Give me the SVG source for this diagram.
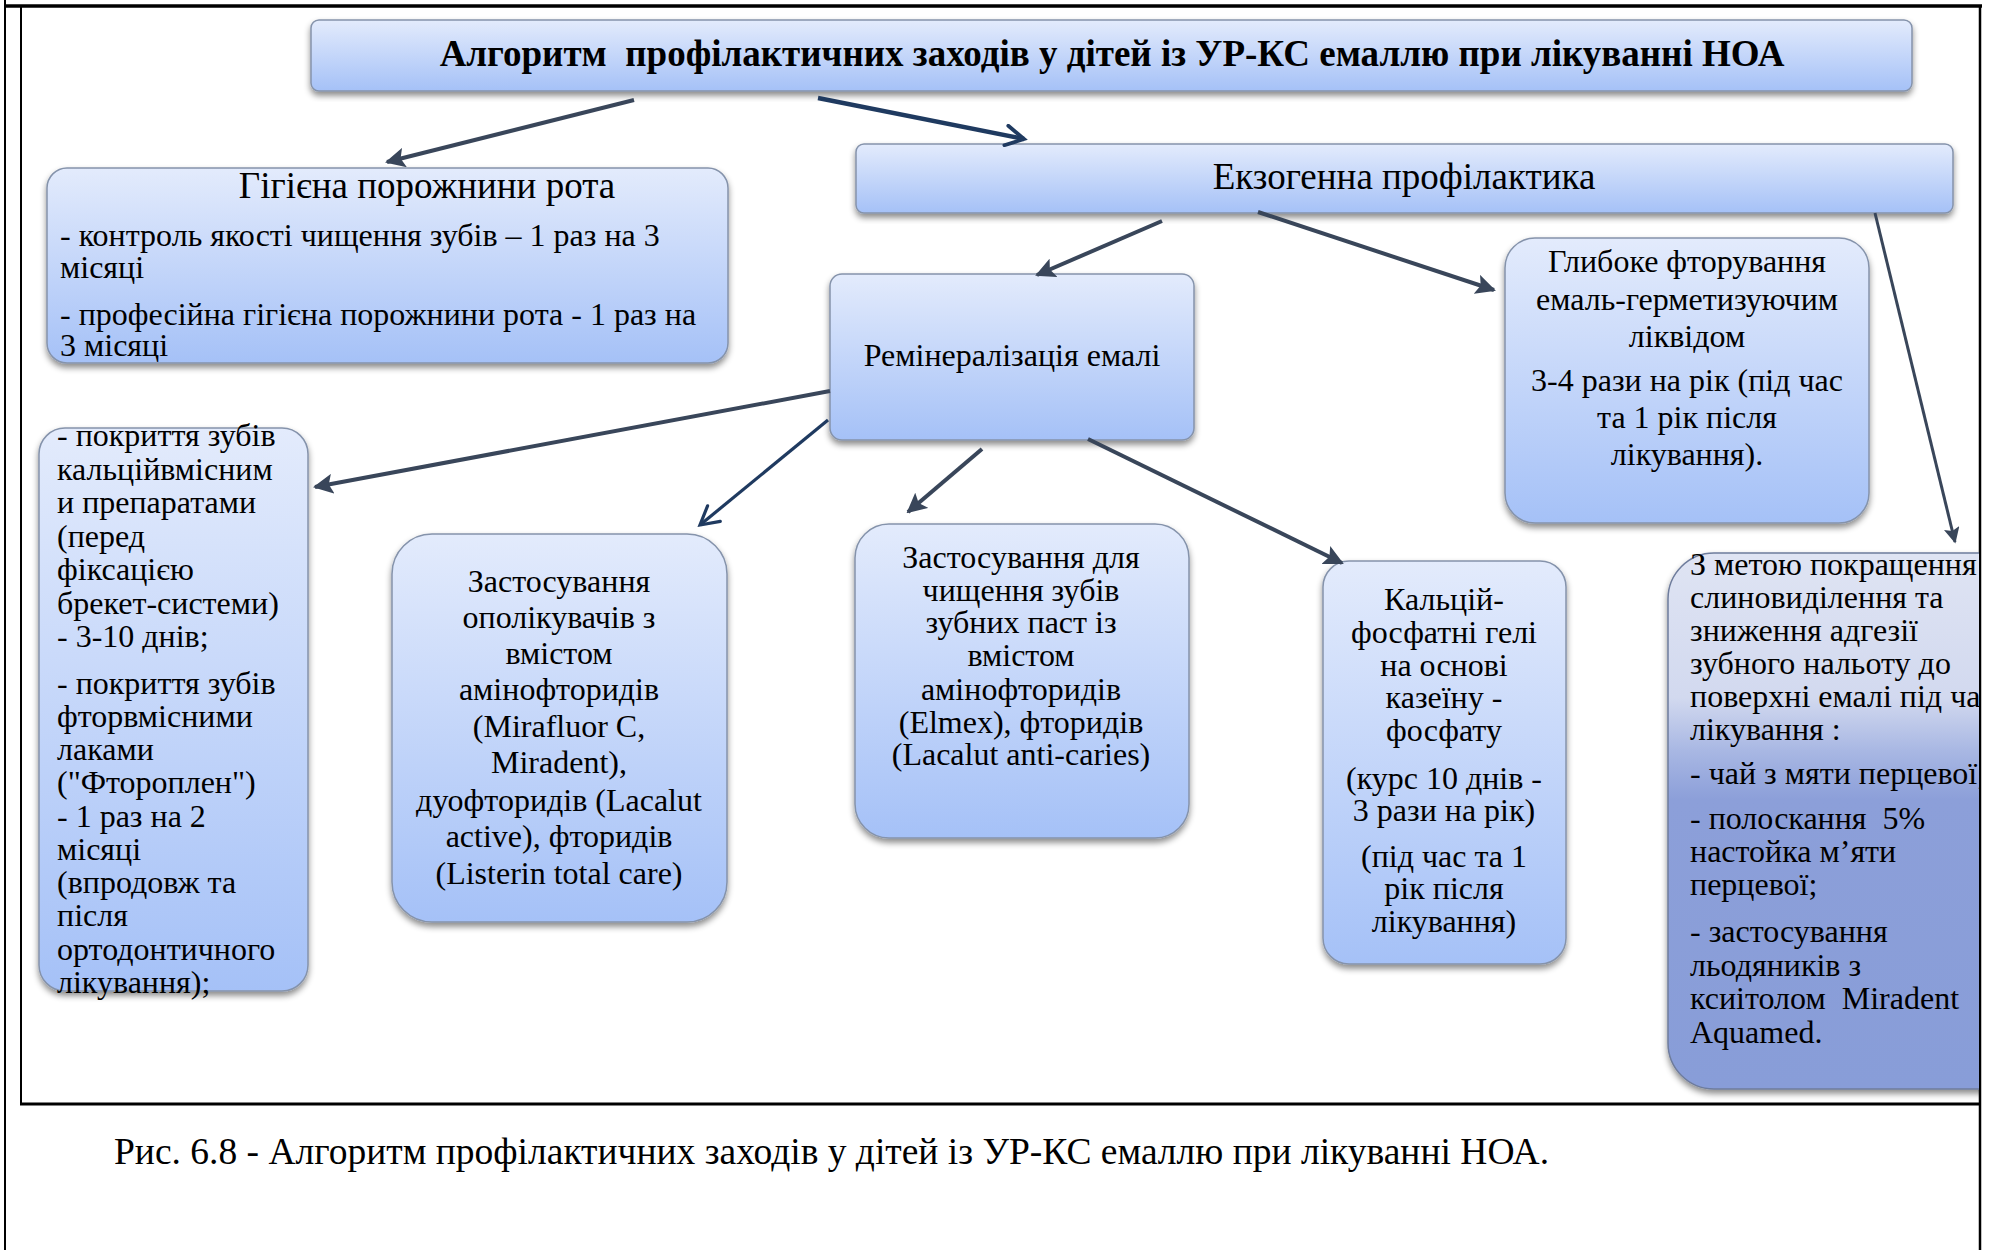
<svg xmlns="http://www.w3.org/2000/svg" width="1998" height="1250" viewBox="0 0 1998 1250">
  <defs>
    <linearGradient id="boxFill" x1="0" y1="0" x2="0" y2="1">
      <stop offset="0" stop-color="#e3ebfc"/>
      <stop offset="1" stop-color="#a5c1f7"/>
    </linearGradient>
    <linearGradient id="sideFill" x1="0" y1="0" x2="0" y2="1">
      <stop offset="0" stop-color="#dfe4f3"/>
      <stop offset="0.27" stop-color="#d2d9ef"/>
      <stop offset="0.37" stop-color="#a8b7e3"/>
      <stop offset="0.46" stop-color="#8c9fd9"/>
      <stop offset="1" stop-color="#889dd8"/>
    </linearGradient>
    <filter id="shadow" x="-10%" y="-10%" width="120%" height="125%">
      <feDropShadow dx="0" dy="4" stdDeviation="3" flood-color="#000" flood-opacity="0.45"/>
    </filter>
    <clipPath id="pageClip">
      <rect x="0" y="0" width="1979" height="1103"/>
    </clipPath>
    <marker id="headFill" viewBox="0 0 10 10" refX="9" refY="5" markerWidth="20" markerHeight="20" markerUnits="userSpaceOnUse" orient="auto">
      <path d="M0,0 L10,5 L0,10 L2,5 z" fill="#39465a"/>
    </marker>
    <marker id="headSmall" viewBox="0 0 10 10" refX="9" refY="5" markerWidth="16" markerHeight="16" markerUnits="userSpaceOnUse" orient="auto">
      <path d="M0,0 L10,5 L0,10 L2,5 z" fill="#39465a"/>
    </marker>
    <marker id="headOpen" viewBox="0 0 12 12" refX="10" refY="6" markerWidth="24" markerHeight="24" markerUnits="userSpaceOnUse" orient="auto">
      <path d="M1,1 L10,6 L1,11" fill="none" stroke="#1f3a60" stroke-width="1.9" stroke-linecap="round" stroke-linejoin="miter"/>
    </marker>
    <marker id="headOpenThin" viewBox="0 0 12 12" refX="10" refY="6" markerWidth="24" markerHeight="24" markerUnits="userSpaceOnUse" orient="auto">
      <path d="M1,1 L10,6 L1,11" fill="none" stroke="#1f3a60" stroke-width="1.6" stroke-linecap="round"/>
    </marker>
    <style>
      .box { fill: url(#boxFill); stroke: #8593ab; stroke-width: 1.5; filter: url(#shadow); }
      .side { fill: url(#sideFill); stroke: #6e7c9c; stroke-width: 1.5; filter: url(#shadow); }
      .t { font-family: "Liberation Serif", "Times New Roman", serif; fill: #000; }
      .c { text-anchor: middle; }
      .f32 { font-size: 32px; }
      .f37 { font-size: 37px; }
      .frame { stroke: #000; fill: none; }
      .arrow { fill: none; stroke: #39465a; stroke-width: 4; }
      .arrowThin { fill: none; stroke: #39465a; stroke-width: 3; }
      .navy { fill: none; stroke: #1f3a60; stroke-width: 4.5; }
      .navyThin { fill: none; stroke: #1f3a60; stroke-width: 3.2; }
    </style>
  </defs>

  <rect x="0" y="0" width="1998" height="1250" fill="#fff"/>

  <!-- page frame -->
  <g id="frame">
    <line class="frame" x1="5" y1="0" x2="5" y2="1250" stroke-width="2"/>
    <line class="frame" x1="4" y1="6" x2="1982" y2="6" stroke-width="3.5"/>
    <line class="frame" x1="1980" y1="5" x2="1980" y2="1250" stroke-width="2.5"/>
    <line class="frame" x1="21" y1="6" x2="21" y2="1104" stroke-width="2"/>
    <line class="frame" x1="20" y1="1104" x2="1981" y2="1104" stroke-width="3"/>
  </g>

  <!-- title -->
  <g id="node-title">
    <rect class="box" x="311" y="20" width="1601" height="71" rx="8"/>
    <text class="t c" x="1112" y="66" font-size="37" font-weight="bold" xml:space="preserve">Алгоритм  профілактичних заходів у дітей із УР-КС емаллю при лікуванні НОА</text>
  </g>

  <!-- oral hygiene -->
  <g id="node-hygiene">
    <rect class="box" x="47" y="168" width="681" height="195" rx="20"/>
    <text class="t c f37" x="427" y="198">Гігієна порожнини рота</text>
    <text class="t f32" x="60" y="246">- контроль якості чищення зубів – 1 раз на 3</text>
    <text class="t f32" x="60" y="278">місяці</text>
    <text class="t f32" x="60" y="325">- професійна гігієна порожнини рота - 1 раз на</text>
    <text class="t f32" x="60" y="356">3 місяці</text>
  </g>

  <!-- exogenous prophylaxis -->
  <g id="node-exogenous">
    <rect class="box" x="856" y="144" width="1097" height="69" rx="8"/>
    <text class="t c f37" x="1404" y="189">Екзогенна профілактика</text>
  </g>

  <!-- enamel remineralisation -->
  <g id="node-remin">
    <rect class="box" x="830" y="274" width="364" height="166" rx="12"/>
    <text class="t c f32" x="1012" y="366">Ремінералізація емалі</text>
  </g>

  <!-- deep fluoridation -->
  <g id="node-deep">
    <rect class="box" x="1505" y="238" width="364" height="285" rx="30"/>
    <text class="t c f32" x="1687" y="272">Глибоке фторування</text>
    <text class="t c f32" x="1687" y="310">емаль-герметизуючим</text>
    <text class="t c f32" x="1687" y="347">ліквідом</text>
    <text class="t c f32" x="1687" y="391">3-4 рази на рік (під час</text>
    <text class="t c f32" x="1687" y="428">та 1 рік після</text>
    <text class="t c f32" x="1687" y="465">лікування).</text>
  </g>

  <!-- coating -->
  <g id="node-coating">
    <rect class="box" x="39" y="428" width="269" height="563" rx="26"/>
    <text class="t f32" x="57" y="446">- покриття зубів</text>
    <text class="t f32" x="57" y="480">кальційвмісним</text>
    <text class="t f32" x="57" y="513">и препаратами</text>
    <text class="t f32" x="57" y="547">(перед</text>
    <text class="t f32" x="57" y="580">фіксацією</text>
    <text class="t f32" x="57" y="614">брекет-системи)</text>
    <text class="t f32" x="57" y="647">- 3-10 днів;</text>
    <text class="t f32" x="57" y="694">- покриття зубів</text>
    <text class="t f32" x="57" y="727">фторвмісними</text>
    <text class="t f32" x="57" y="760">лаками</text>
    <text class="t f32" x="57" y="793">("Фтороплен")</text>
    <text class="t f32" x="57" y="827">- 1 раз на 2</text>
    <text class="t f32" x="57" y="860">місяці</text>
    <text class="t f32" x="57" y="893">(впродовж та</text>
    <text class="t f32" x="57" y="926">після</text>
    <text class="t f32" x="57" y="960">ортодонтичного</text>
    <text class="t f32" x="57" y="993">лікування);</text>
  </g>

  <!-- rinses -->
  <g id="node-rinse">
    <rect class="box" x="392" y="534" width="335" height="388" rx="40"/>
    <text class="t c f32" x="559" y="592">Застосування</text>
    <text class="t c f32" x="559" y="628">ополікувачів з</text>
    <text class="t c f32" x="559" y="664">вмістом</text>
    <text class="t c f32" x="559" y="700">амінофторидів</text>
    <text class="t c f32" x="559" y="737">(Mirafluor C,</text>
    <text class="t c f32" x="559" y="773">Miradent),</text>
    <text class="t c f32" x="559" y="811">дуофторидів (Lacalut</text>
    <text class="t c f32" x="559" y="847">active), фторидів</text>
    <text class="t c f32" x="559" y="884">(Listerin total care)</text>
  </g>

  <!-- toothpastes -->
  <g id="node-paste">
    <rect class="box" x="855" y="524" width="334" height="314" rx="34"/>
    <text class="t c f32" x="1021" y="568">Застосування для</text>
    <text class="t c f32" x="1021" y="601">чищення зубів</text>
    <text class="t c f32" x="1021" y="633">зубних паст із</text>
    <text class="t c f32" x="1021" y="666">вмістом</text>
    <text class="t c f32" x="1021" y="700">амінофторидів</text>
    <text class="t c f32" x="1021" y="733">(Elmex), фторидів</text>
    <text class="t c f32" x="1021" y="765">(Lacalut anti-caries)</text>
  </g>

  <!-- calcium phosphate gels -->
  <g id="node-gel">
    <rect class="box" x="1323" y="561" width="243" height="403" rx="26"/>
    <text class="t c f32" x="1444" y="610">Кальцій-</text>
    <text class="t c f32" x="1444" y="643">фосфатні гелі</text>
    <text class="t c f32" x="1444" y="676">на основі</text>
    <text class="t c f32" x="1444" y="708">казеїну -</text>
    <text class="t c f32" x="1444" y="741">фосфату</text>
    <text class="t c f32" x="1444" y="789">(курс 10 днів -</text>
    <text class="t c f32" x="1444" y="821">3 рази на рік)</text>
    <text class="t c f32" x="1444" y="867">(під час та 1</text>
    <text class="t c f32" x="1444" y="899">рік після</text>
    <text class="t c f32" x="1444" y="932">лікування)</text>
  </g>

  <!-- salivation -->
  <g id="node-saliva" clip-path="url(#pageClip)">
    <rect class="side" x="1668" y="553" width="360" height="536" rx="46"/>
    <text class="t f32" x="1690" y="575">З метою покращення</text>
    <text class="t f32" x="1690" y="608">слиновиділення та</text>
    <text class="t f32" x="1690" y="641">зниження адгезії</text>
    <text class="t f32" x="1690" y="674">зубного нальоту до</text>
    <text class="t f32" x="1690" y="707">поверхні емалі під час</text>
    <text class="t f32" x="1690" y="740" xml:space="preserve">лікування :</text>
    <text class="t f32" x="1690" y="784">- чай з мяти перцевої;</text>
    <text class="t f32" x="1690" y="829" xml:space="preserve">- полоскання  5%</text>
    <text class="t f32" x="1690" y="862">настойка м’яти</text>
    <text class="t f32" x="1690" y="895">перцевої;</text>
    <text class="t f32" x="1690" y="942">- застосування</text>
    <text class="t f32" x="1690" y="976">льодяників з</text>
    <text class="t f32" x="1690" y="1009" xml:space="preserve">ксиітолом  Miradent</text>
    <text class="t f32" x="1690" y="1043">Aquamed.</text>
  </g>

  <!-- connectors -->
  <g id="connectors">
    <line class="arrow" x1="634" y1="100" x2="387" y2="162" marker-end="url(#headFill)"/>
    <line class="navy" x1="818" y1="98" x2="1024" y2="139" marker-end="url(#headOpen)"/>
    <line class="arrow" x1="1162" y1="221" x2="1037" y2="275" marker-end="url(#headFill)"/>
    <line class="arrow" x1="1258" y1="212" x2="1494" y2="290" marker-end="url(#headFill)"/>
    <line class="arrowThin" x1="1875" y1="213" x2="1955" y2="542" marker-end="url(#headSmall)"/>
    <line class="arrow" x1="830" y1="391" x2="315" y2="487" marker-end="url(#headFill)"/>
    <line class="navyThin" x1="828" y1="420" x2="700" y2="525" marker-end="url(#headOpenThin)"/>
    <line class="arrow" x1="982" y1="449" x2="908" y2="512" marker-end="url(#headFill)"/>
    <line class="arrow" x1="1088" y1="439" x2="1342" y2="563" marker-end="url(#headFill)"/>
  </g>

  <!-- caption -->
  <text class="t" font-size="37.5" x="114" y="1164">Рис. 6.8 - Алгоритм профілактичних заходів у дітей із УР-КС емаллю при лікуванні НОА.</text>
</svg>
